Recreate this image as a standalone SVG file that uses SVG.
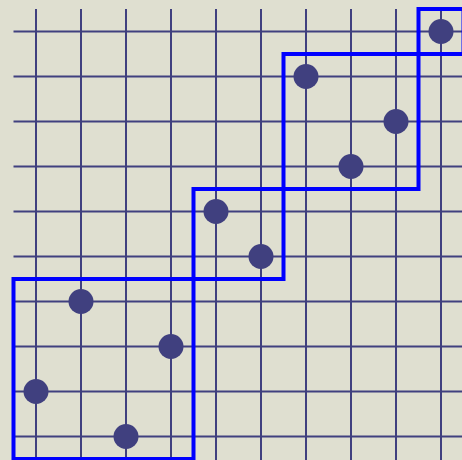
<svg xmlns="http://www.w3.org/2000/svg" width="462" height="460" viewBox="0 0 462 460">
<style>
.g{stroke:#40407f;stroke-width:2;fill:none}
.d{fill:#40407f}
.b{stroke:#0000ff;stroke-width:4;fill:none}
</style>
<rect x="0" y="0" width="462" height="460" fill="#dfdfd0"/>
<g id="grid" class="g">
<path d="M36 9V460M81 9V460M126 9V460M171 9V460M216 9V460M261 9V460M306 9V460M351 9V460M396 9V460M441 9V460"/>
<path d="M13.5 31.5H462M13.5 76.5H462M13.5 121.5H462M13.5 166.5H462M13.5 211.5H462M13.5 256.5H462M13.5 301.5H462M13.5 346.5H462M13.5 391.5H462M13.5 436.5H462"/>
</g>
<g id="boxes" class="b">
<rect x="13.5" y="279" width="180" height="180"/>
<rect x="193.5" y="189" width="90" height="90"/>
<rect x="283.5" y="54" width="135" height="135"/>
<rect x="418.5" y="9" width="45" height="45"/>
</g>
<g id="dot1"><circle class="d" cx="441" cy="31.5" r="12.5"/></g>
<g id="dot2"><circle class="d" cx="306" cy="76.5" r="12.5"/></g>
<g id="dot3"><circle class="d" cx="396" cy="121.5" r="12.5"/></g>
<g id="dot4"><circle class="d" cx="351" cy="166.5" r="12.5"/></g>
<g id="dot5"><circle class="d" cx="216" cy="211.5" r="12.5"/></g>
<g id="dot6"><circle class="d" cx="261" cy="256.5" r="12.5"/></g>
<g id="dot7"><circle class="d" cx="81" cy="301.5" r="12.5"/></g>
<g id="dot8"><circle class="d" cx="171" cy="346.5" r="12.5"/></g>
<g id="dot9"><circle class="d" cx="36" cy="391.5" r="12.5"/></g>
<g id="dot10"><circle class="d" cx="126" cy="436.5" r="12.5"/></g>
</svg>
